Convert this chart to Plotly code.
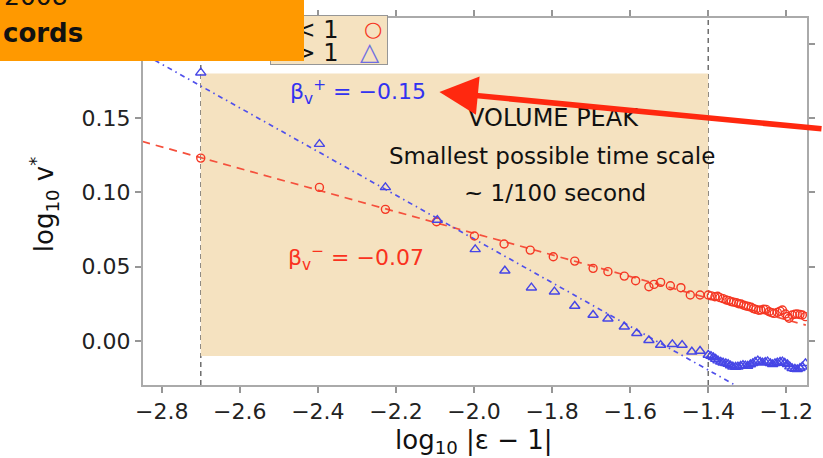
import plotly.graph_objects as go

# ---------------- data ----------------
red_x = [-2.700, -2.396, -2.227, -2.096, -1.999, -1.923, -1.856, -1.797, -1.742, -1.695,
         -1.657, -1.615, -1.586, -1.552, -1.539, -1.522, -1.497, -1.470, -1.446, -1.421,
         -1.400, -1.392, -1.383, -1.376, -1.370, -1.362, -1.354, -1.347, -1.341, -1.335,
         -1.328, -1.322, -1.316, -1.309, -1.303, -1.297, -1.290, -1.284, -1.278, -1.271,
         -1.265, -1.258, -1.252, -1.244, -1.237, -1.231, -1.223, -1.216, -1.210, -1.202,
         -1.197, -1.193, -1.185, -1.178, -1.172, -1.165, -1.159, -1.151]
red_y = [0.1231, 0.1034, 0.0886, 0.0803, 0.0707, 0.0653, 0.0612, 0.0567, 0.0538, 0.0489,
         0.0467, 0.0437, 0.0406, 0.0365, 0.0381, 0.0395, 0.0372, 0.0359, 0.0310, 0.0310,
         0.0310, 0.0304, 0.0298, 0.0301, 0.0292, 0.0285, 0.0276, 0.0272, 0.0265, 0.0262,
         0.0258, 0.0251, 0.0249, 0.0241, 0.0236, 0.0232, 0.0227, 0.0218, 0.0213, 0.0207,
         0.0209, 0.0214, 0.0213, 0.0197, 0.0190, 0.0186, 0.0193, 0.0201, 0.0209, 0.0182,
         0.0165, 0.0153, 0.0175, 0.0180, 0.0182, 0.0178, 0.0175, 0.0164]

blue_x = [-2.700, -2.396, -2.227, -2.094, -1.997, -1.921, -1.853, -1.794, -1.742, -1.695,
          -1.657, -1.615, -1.583, -1.552, -1.522, -1.492, -1.467, -1.442, -1.421, -1.400,
          -1.393, -1.387, -1.381, -1.375, -1.368, -1.362, -1.355, -1.349, -1.343, -1.337,
          -1.330, -1.324, -1.317, -1.311, -1.305, -1.299, -1.292, -1.286, -1.280, -1.273,
          -1.267, -1.261, -1.254, -1.248, -1.241, -1.235, -1.229, -1.223, -1.216, -1.210,
          -1.204, -1.197, -1.191, -1.185, -1.178, -1.172, -1.165, -1.159, -1.151]
blue_y = [0.1806, 0.1325, 0.1034, 0.0814, 0.0617, 0.0473, 0.0359, 0.0332, 0.0236, 0.0175,
          0.0150, 0.0096, 0.0052, 0.0005, -0.0027, -0.0022, -0.0027, -0.0072, -0.0067, -0.0094,
          -0.0101, -0.0110, -0.0121, -0.0132, -0.0140, -0.0146, -0.0150, -0.0155, -0.0165, -0.0173,
          -0.0175, -0.0173, -0.0168, -0.0162, -0.0166, -0.0168, -0.0158, -0.0150, -0.0140, -0.0132,
          -0.0140, -0.0146, -0.0142, -0.0139, -0.0150, -0.0157, -0.0150, -0.0146, -0.0141, -0.0139,
          -0.0148, -0.0157, -0.0172, -0.0184, -0.0188, -0.0191, -0.0183, -0.0173, -0.0150]

# fitted lines (end points)
red_fit_x = [-2.85, -1.15]
red_fit_y = [0.1343, 0.0107]
blue_fit_x = [-2.85, -1.15]
blue_fit_y = [0.1937, -0.0563]

# shaded window and its borders
window_x = [-2.7, -1.4]
window_y = [-0.01, 0.18]

x_ticks = [-2.8, -2.6, -2.4, -2.2, -2.0, -1.8, -1.6, -1.4, -1.2]
x_ticktext = ["−2.8", "−2.6", "−2.4", "−2.2", "−2.0", "−1.8", "−1.6", "−1.4", "−1.2"]
y_ticks = [0.0, 0.05, 0.10, 0.15, 0.20]
y_ticktext = ["0.00", "0.05", "0.10", "0.15", "0.20"]

RED = "rgb(245,55,35)"
BLUE = "rgb(70,70,230)"
WHEAT = "rgb(245,226,192)"
FONT = "DejaVu Sans"

fig = go.Figure()

fig.add_trace(go.Scatter(x=red_fit_x, y=red_fit_y, mode="lines",
                         line=dict(color="rgb(245,80,60)", width=1.7, dash="8px,6px"),
                         hoverinfo="skip"))
fig.add_trace(go.Scatter(x=blue_fit_x, y=blue_fit_y, mode="lines",
                         line=dict(color="rgb(80,80,235)", width=1.7, dash="5px,4px,1.5px,4px"),
                         hoverinfo="skip"))
fig.add_trace(go.Scatter(x=red_x, y=red_y, mode="markers", name="ε < 1",
                         marker=dict(symbol="circle-open", size=8, color=RED,
                                     line=dict(width=1.4, color=RED))))
fig.add_trace(go.Scatter(x=blue_x, y=blue_y, mode="markers", name="ε > 1",
                         marker=dict(symbol="triangle-up-open", size=9, color=BLUE,
                                     line=dict(width=1.4, color=BLUE))))

shapes = [
    dict(type="rect", xref="x", yref="y", x0=window_x[0], x1=window_x[1],
         y0=window_y[0], y1=window_y[1], fillcolor=WHEAT, line=dict(width=0), layer="below"),
]
for xv in window_x:
    shapes.append(dict(type="line", xref="x", yref="paper", x0=xv, x1=xv, y0=0, y1=1,
                       line=dict(color="rgb(110,110,110)", width=1.5, dash="5px,4px"),
                       layer="below"))

W = 672.0
H = 367.0
L = 143.0
T = 18.0


def px(xp):
    return (xp - L) / W


def py(yp):
    return 1 - (yp - T) / H


def ann(xp, yp, text, xanchor="center", yanchor="middle", **kw):
    d = dict(xref="paper", yref="paper", x=px(xp), y=py(yp), text=text,
             xanchor=xanchor, yanchor=yanchor, showarrow=False)
    d.update(kw)
    return d


annotations = [
    # axis titles
    ann(478, 441, "log<sub>10</sub> |ε − 1|", font=dict(family=FONT, size=26, color="#111")),
    ann(42, 204, "log<sub>10</sub> v<sup>*</sup>", textangle=-90,
        font=dict(family=FONT, size=26, color="#111")),
    # in-plot text
    ann(361, 92, "β<sub>v</sub><sup>+</sup> = −0.15",
        font=dict(family=FONT, size=22, color="rgb(50,50,240)")),
    ann(359, 258, "β<sub>v</sub><sup>−</sup> = −0.07",
        font=dict(family=FONT, size=22, color="rgb(250,50,30)")),
    ann(558, 118, "VOLUME PEAK", font=dict(family=FONT, size=24, color="#111")),
    ann(557, 156, "Smallest possible time scale", font=dict(family=FONT, size=23, color="#111")),
    ann(560, 193, "~ 1/100 second", font=dict(family=FONT, size=23, color="#111")),
    # red arrow
    dict(xref="paper", yref="paper", x=px(443), y=py(92), text="", showarrow=True,
         ax=400, ay=37, arrowhead=2, arrowsize=1.4, arrowwidth=5.5,
         arrowcolor="rgb(255,40,15)"),
    # legend box
    ann(331, 40, " ", width=116, height=48, bgcolor=WHEAT, bordercolor="rgb(150,150,150)",
        borderwidth=1, borderpad=0),
    ann(343, 30, "ε < 1", xanchor="right", font=dict(family=FONT, size=24, color="#111")),
    ann(343, 53, "ε > 1", xanchor="right", font=dict(family=FONT, size=24, color="#111")),
    ann(376, 29, "○", font=dict(family=FONT, size=21, color=RED)),
    ann(373, 51, "△", font=dict(family=FONT, size=25, color="rgb(110,110,225)")),
    # orange overlay box
    ann(152, 30.5, " ", width=304, height=61, bgcolor="#FF9900", borderpad=0, borderwidth=0),
    ann(0, -3, "2008", xanchor="left", font=dict(family=FONT, size=25, color="#111")),
    ann(-1, 33, "<b>cords</b>", xanchor="left", font=dict(family=FONT, size=26, color="#111")),
]

axis_common = dict(showline=True, linecolor="rgb(170,170,170)", linewidth=2, mirror="allticks",
                   ticks="outside", ticklen=6, tickwidth=1.5, tickcolor="rgb(150,150,150)",
                   showgrid=False, zeroline=False,
                   tickfont=dict(family=FONT, size=22, color="#222"))

fig.update_layout(
    width=823, height=458,
    margin=dict(l=143, r=8, t=18, b=73),
    plot_bgcolor="white", paper_bgcolor="white",
    showlegend=False,
    xaxis=dict(range=[-2.848, -1.147], tickvals=x_ticks, ticktext=x_ticktext, **axis_common),
    yaxis=dict(range=[-0.0296, 0.2174], tickvals=y_ticks, ticktext=y_ticktext, **axis_common),
    shapes=shapes,
    annotations=annotations,
    font=dict(family=FONT),
)

fig.write_html("out.html")
